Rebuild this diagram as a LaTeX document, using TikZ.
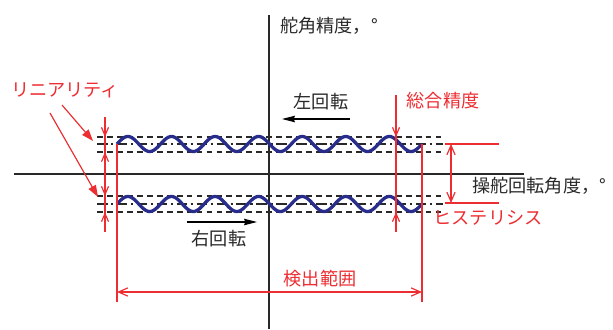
\documentclass[tikz,border=0pt]{standalone}
\usepackage{fontspec}
\newfontfamily\jp{Noto Sans CJK JP}
\usetikzlibrary{arrows.meta}
\definecolor{dimred}{RGB}{236,45,50}
\definecolor{wavec}{RGB}{40,45,140}
\definecolor{ink}{RGB}{40,40,40}
\begin{document}
\begin{tikzpicture}[x=0.03cm,y=-0.03cm,
  font=\jp\fontsize{15.5}{17}\selectfont,
  axis/.style={draw=ink, line width=0.9pt},
  dimline/.style={draw=dimred, line width=1pt},
  barb/.style={dimline, -{Straight Barb[length=7pt,width=6pt]}},
  dimarrow/.style={dimline, {Straight Barb[length=8pt,width=7pt]}-{Straight Barb[length=8pt,width=7pt]}},
  pointer/.style={dimline, -{Triangle[length=10pt,width=7pt]}},
  turn/.style={draw=black, line width=1pt, -{Stealth[length=11pt,width=5.5pt,inset=1pt]}},
  guide/.style={draw=ink, line width=0.9pt, dash pattern=on 5pt off 3.5pt},
  midline/.style={draw=ink, line width=0.9pt, dash pattern=on 9pt off 3pt on 2pt off 3pt},
  wave/.style={draw=wavec, line width=2.8pt},
  lbl/.style={text=ink, inner sep=0pt},
  rlbl/.style={text=dimred, inner sep=0pt}]
\useasboundingbox (0,0) rectangle (613,329);

% axes
\coordinate (xl) at (14,174);  \coordinate (xr) at (524,174);
\coordinate (yt) at (269,15);  \coordinate (yb) at (269,329);
\draw[axis] (xl) -- (xr);
\draw[axis] (yt) -- (yb);

% guide lines
\foreach \y in {137,152,196,212} {\draw[guide] (97,\y) -- (443,\y);}
\foreach \y in {144,204} {\draw[midline] (97,\y) -- (443,\y);}

% waves
\draw[wave] plot[domain=0:305, samples=300, smooth] ({117+\x}, {144-7.5*sin(\x/305*7*360)});
\draw[wave] plot[domain=0:305, samples=300, smooth] ({117+\x}, {204-7.5*sin(\x/305*7*360)});

% labels
\node[lbl] (ya) at (329,26) {舵角精度，°};
\node[lbl, anchor=west] (xa) at (472,186) {操舵回転角度，°};
\node[lbl] (lt) at (321,102) {左回転};
\node[lbl] (rt) at (219,239) {右回転};
\node[rlbl] (lin) at (65,90) {リニアリティ};
\node[rlbl] (tot) at (443,101) {総合精度};
\node[rlbl] (hys) at (488,218) {ヒステリシス};
\node[rlbl] (det) at (320,279) {検出範囲};

% rotation arrows
\coordinate (la1) at (350,119); \coordinate (la2) at (282,119);
\draw[turn] (la1) -- (la2);
\coordinate (ra1) at (187,222); \coordinate (ra2) at (257,222);
\draw[turn] (ra1) -- (ra2);

% linearity
\coordinate (l1) at (105,117); \coordinate (l2) at (105,232);
\draw[dimline] (l1) -- (l2);
\draw[barb] (105,126) -- (105,137);
\draw[barb] (105,163) -- (105,152);
\draw[barb] (105,185) -- (105,196);
\draw[barb] (105,223) -- (105,212);
\coordinate (p1) at (62,105); \coordinate (p1e) at (93,141);
\coordinate (p2) at (50,113); \coordinate (p2e) at (98,197);
\draw[pointer] (p1) -- (p1e);
\draw[pointer] (p2) -- (p2e);

% total accuracy
\coordinate (t1) at (396,95); \coordinate (t2) at (396,232);
\draw[dimline] (t1) -- (t2);
\draw[barb] (396,126) -- (396,137);
\draw[barb] (396,223) -- (396,212);

% hysteresis
\coordinate (h1) at (445,144); \coordinate (h2) at (499,144);
\coordinate (h3) at (445,203); \coordinate (h4) at (499,203);
\draw[dimline] (h1) -- (h2);
\draw[dimline] (h3) -- (h4);
\coordinate (ha) at (451,144); \coordinate (hb) at (451,203);
\draw[dimarrow] (ha) -- (hb);

% detection range
\coordinate (d1) at (117,144); \coordinate (d2) at (117,302);
\coordinate (d3) at (422,144); \coordinate (d4) at (422,302);
\draw[dimline] (d1) -- (d2);
\draw[dimline] (d3) -- (d4);
\coordinate (da) at (117,292); \coordinate (db) at (422,292);
\draw[dimarrow] (da) -- (db);
\end{tikzpicture}
\end{document}
